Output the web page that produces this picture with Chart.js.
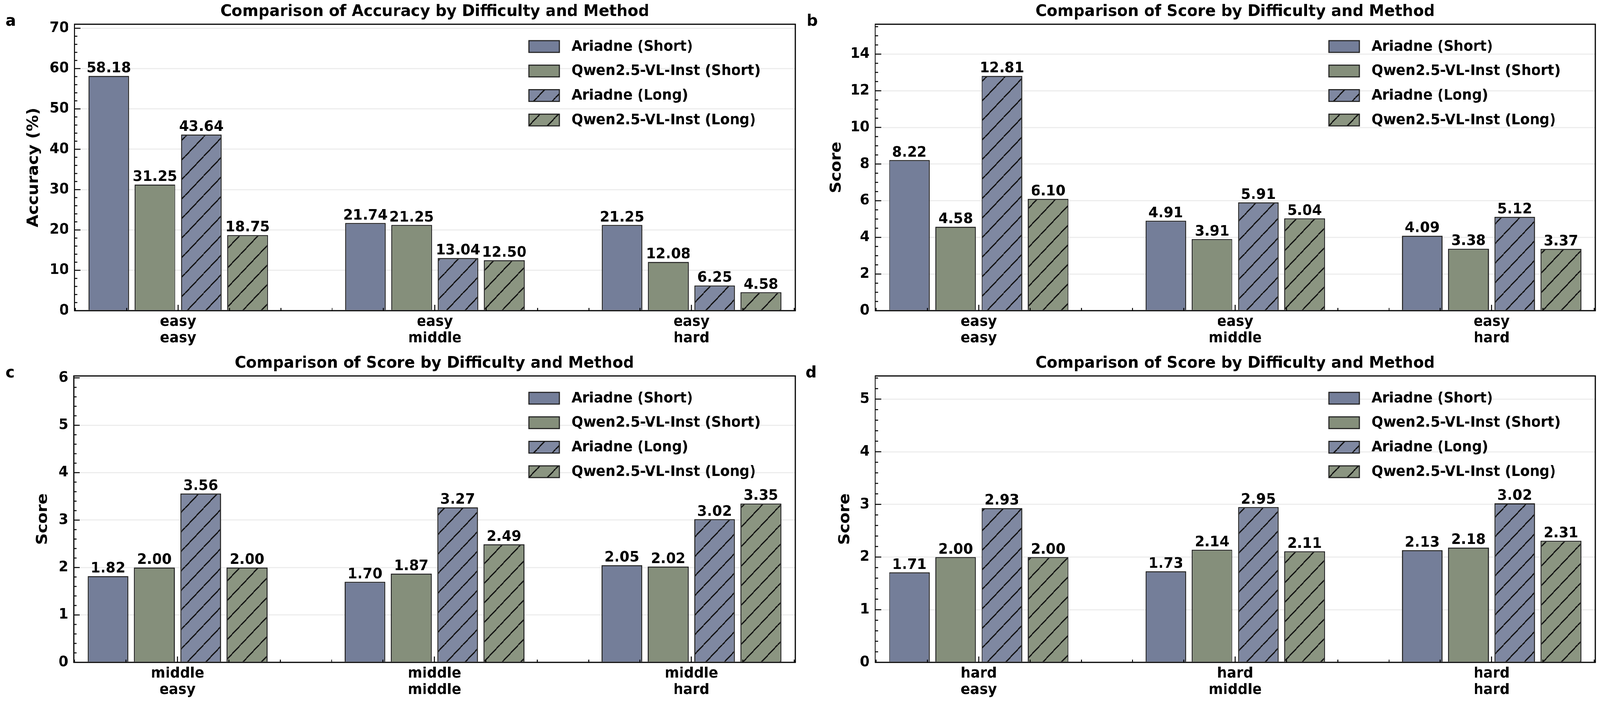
<!DOCTYPE html>
<html>
<head>
<meta charset="utf-8">
<title>Comparison by Difficulty and Method</title>
<script src="https://cdn.jsdelivr.net/npm/chart.js@4.4.0/dist/chart.umd.min.js"></script>
<style>
    html, body { margin: 0; background: #fff; overflow: hidden; }
    #page { position: absolute; left: 0; top: 0; width: 4320px; height: 1799px; transform-origin: 0 0; }
    .panel { position: absolute; width: 2160px; }
</style>
</head>
<body>
<div id="page">
    <div class="panel" style="left:0;top:0;height:900px"><canvas id="chartA"></canvas></div>
    <div class="panel" style="left:2160px;top:0;height:900px"><canvas id="chartB"></canvas></div>
    <div class="panel" style="left:0;top:900px;height:899px"><canvas id="chartC"></canvas></div>
    <div class="panel" style="left:2160px;top:900px;height:899px"><canvas id="chartD"></canvas></div>
</div>
<script>
    'use strict';

    var methodNames = ['Ariadne (Short)', 'Qwen2.5-VL-Inst (Short)', 'Ariadne (Long)', 'Qwen2.5-VL-Inst (Long)'];

    var catsEasy = [['easy', 'easy'], ['easy', 'middle'], ['easy', 'hard']];
    var catsMiddle = [['middle', 'easy'], ['middle', 'middle'], ['middle', 'hard']];
    var catsHard = [['hard', 'easy'], ['hard', 'middle'], ['hard', 'hard']];

    // a: accuracy (%), easy
    var accEasyAriadneShort = [58.18, 21.74, 21.25];
    var accEasyQwenShort = [31.25, 21.25, 12.08];
    var accEasyAriadneLong = [43.64, 13.04, 6.25];
    var accEasyQwenLong = [18.75, 12.50, 4.58];

    // b: score, easy
    var scoreEasyAriadneShort = [8.22, 4.91, 4.09];
    var scoreEasyQwenShort = [4.58, 3.91, 3.38];
    var scoreEasyAriadneLong = [12.81, 5.91, 5.12];
    var scoreEasyQwenLong = [6.10, 5.04, 3.37];

    // c: score, middle
    var scoreMiddleAriadneShort = [1.82, 1.70, 2.05];
    var scoreMiddleQwenShort = [2.00, 1.87, 2.02];
    var scoreMiddleAriadneLong = [3.56, 3.27, 3.02];
    var scoreMiddleQwenLong = [2.00, 2.49, 3.35];

    // d: score, hard
    var scoreHardAriadneShort = [1.71, 1.73, 2.13];
    var scoreHardQwenShort = [2.00, 2.14, 2.18];
    var scoreHardAriadneLong = [2.93, 2.95, 3.02];
    var scoreHardQwenLong = [2.00, 2.11, 2.31];

    var yTicksA = [0, 10, 20, 30, 40, 50, 60, 70];
    var yTicksB = [0, 2, 4, 6, 8, 10, 12, 14];
    var yTicksC = [0, 1, 2, 3, 4, 5, 6];
    var yTicksD = [0, 1, 2, 3, 4, 5];
    var xTicks = [0, 1, 2];

    // the figure is laid out at 4320x1799; fit it to the real window
    var sx = Math.min(1, window.innerWidth / 4320);
    var sy = Math.min(1, window.innerHeight / 1799);
    document.getElementById('page').style.transform = 'scale(' + sx + ',' + sy + ')';

    var FONT = '"DejaVu Sans", sans-serif';
    Chart.defaults.font.family = FONT;
    Chart.defaults.font.weight = 'bold';
    Chart.defaults.color = '#000';

    function hatch(color) {
        var s = 50;
        var c = document.createElement('canvas');
        c.width = s;
        c.height = s;
        var g = c.getContext('2d');
        g.fillStyle = color;
        g.fillRect(0, 0, s, s);
        g.strokeStyle = '#111';
        g.lineWidth = 3.2;
        g.beginPath();
        [-s, 0, s].forEach(function (o) {
            g.moveTo(o, s);
            g.lineTo(o + s, 0);
        });
        g.stroke();
        return g.createPattern(c, 'repeat');
    }

    var fills = ['#747e99', '#858f7b', hatch('#7f88a1'), hatch('#8b9581')];

    // inward ticks, value labels, frame, legend and panel letter
    var decorPlugin = {
        id: 'decor',
        afterDatasetsDraw: function (chart, args, o) {
            var ctx = chart.ctx;
            var area = chart.chartArea;
            var xs = chart.scales.x;
            var ys = chart.scales.y;
            ctx.save();

            ctx.font = 'bold 38px ' + FONT;
            ctx.fillStyle = '#000';
            ctx.textAlign = 'center';
            ctx.textBaseline = 'alphabetic';
            chart.data.datasets.forEach(function (ds, i) {
                chart.getDatasetMeta(i).data.forEach(function (bar, j) {
                    ctx.fillText(ds.data[j].y.toFixed(2), bar.x, bar.y - 9);
                });
            });

            ctx.strokeStyle = '#000';
            ctx.lineWidth = 2.5;
            ctx.beginPath();
            var k, v, p;
            for (k = 1; k * o.yMinor <= ys.max + 1e-9; k++) {
                v = k * o.yMinor;
                p = ys.getPixelForValue(v);
                var isMajor = Math.abs(v / o.yMajor - Math.round(v / o.yMajor)) < 1e-6;
                ctx.moveTo(area.left, p);
                ctx.lineTo(area.left + (isMajor ? 16 : 8), p);
            }
            for (k = -10; k <= 20; k++) {
                v = k * 0.2;
                if (v < xs.min || v > xs.max) continue;
                p = xs.getPixelForValue(v);
                ctx.moveTo(p, area.bottom);
                ctx.lineTo(p, area.bottom - (k % 5 === 0 ? 15 : 7));
            }
            ctx.stroke();

            ctx.lineWidth = 3;
            ctx.strokeRect(area.left, area.top, area.right - area.left, area.bottom - area.top);

            // legend
            var lx = area.right - 719;
            ctx.font = 'bold 37.5px ' + FONT;
            ctx.textAlign = 'left';
            ctx.textBaseline = 'middle';
            chart.data.datasets.forEach(function (ds, i) {
                var cy = area.top + 57 + i * 62.7;
                ctx.fillStyle = ds.backgroundColor;
                ctx.fillRect(lx, cy - 15, 82, 30);
                ctx.lineWidth = 2.8;
                ctx.strokeStyle = '#222';
                ctx.strokeRect(lx, cy - 15, 82, 30);
                ctx.fillStyle = '#000';
                ctx.fillText(ds.label, lx + 115, cy + 1);
            });

            ctx.font = 'bold 41.7px ' + FONT;
            ctx.textBaseline = 'alphabetic';
            ctx.fillText(o.letter, o.letterX, 66);
            ctx.restore();
        }
    };

    function makeChart(id, p) {
        var datasets = p.series.map(function (values, i) {
            return {
                label: methodNames[i],
                data: values.map(function (y, j) { return { x: j, y: y }; }),
                backgroundColor: fills[i],
                borderColor: '#222',
                borderWidth: 2.8,
                categoryPercentage: 0.7215,
                barPercentage: 0.88
            };
        });

        return new Chart(document.getElementById(id).getContext('2d'), {
            type: 'bar',
            data: { datasets: datasets },
            plugins: [decorPlugin],
            options: {
                responsive: true,
                maintainAspectRatio: false,
                animation: false,
                devicePixelRatio: 1,
                layout: { padding: { left: 0, right: 13, top: 0, bottom: 0 } },
                plugins: {
                    legend: { display: false },
                    tooltip: { enabled: false },
                    title: {
                        display: true,
                        text: p.title,
                        fullSize: false,
                        color: '#000',
                        font: { size: 41.7, weight: 'bold' },
                        padding: { top: 5.6, bottom: 6.4 }
                    },
                    decor: { letter: p.letter, letterX: p.letterX, yMajor: p.yTicks[1], yMinor: p.yMinor }
                },
                scales: {
                    x: {
                        type: 'linear',
                        min: -0.404,
                        max: 2.404,
                        offset: false,
                        afterBuildTicks: function (s) {
                            s.ticks = xTicks.map(function (v) { return { value: v }; });
                        },
                        afterFit: function (s) { s.height = p.xAxisHeight; },
                        grid: { display: false, drawTicks: false },
                        border: { display: false },
                        ticks: {
                            autoSkip: false,
                            maxRotation: 0,
                            padding: 9,
                            color: '#000',
                            font: { size: 37.5, weight: 'bold', lineHeight: 1.1 },
                            callback: function (v) { return p.cats[v]; }
                        }
                    },
                    y: {
                        min: 0,
                        max: p.yMax,
                        afterBuildTicks: function (s) {
                            s.ticks = p.yTicks.map(function (v) { return { value: v }; });
                        },
                        afterFit: function (s) { s.width = p.yAxisWidth; },
                        grid: { color: 'rgba(0,0,0,0.07)', lineWidth: 3, drawTicks: false },
                        border: { display: false },
                        ticks: {
                            padding: 15,
                            color: '#000',
                            font: { size: 37.5, weight: 'bold' },
                            callback: function (v) { return String(v); }
                        },
                        title: {
                            display: true,
                            text: p.yTitle,
                            color: '#000',
                            font: { size: 41.7, weight: 'bold' },
                            padding: { top: p.yTitlePad, bottom: 0 }
                        }
                    }
                }
            }
        });
    }

    makeChart('chartA', {
        title: 'Comparison of Accuracy by Difficulty and Method',
        yTitle: 'Accuracy (%)', letter: 'a', letterX: 15,
        cats: catsEasy, yTicks: yTicksA, yMax: 70.98, yMinor: 2,
        yAxisWidth: 201, yTitlePad: 66, xAxisHeight: 105,
        series: [accEasyAriadneShort, accEasyQwenShort, accEasyAriadneLong, accEasyQwenLong]
    });

    makeChart('chartB', {
        title: 'Comparison of Score by Difficulty and Method',
        yTitle: 'Score', letter: 'b', letterX: 18,
        cats: catsEasy, yTicks: yTicksB, yMax: 15.63, yMinor: 0.5,
        yAxisWidth: 203, yTitlePad: 74, xAxisHeight: 105,
        series: [scoreEasyAriadneShort, scoreEasyQwenShort, scoreEasyAriadneLong, scoreEasyQwenLong]
    });

    makeChart('chartC', {
        title: 'Comparison of Score by Difficulty and Method',
        yTitle: 'Score', letter: 'c', letterX: 15,
        cats: catsMiddle, yTicks: yTicksC, yMax: 6.04, yMinor: 0.2,
        yAxisWidth: 199, yTitlePad: 91, xAxisHeight: 104,
        series: [scoreMiddleAriadneShort, scoreMiddleQwenShort, scoreMiddleAriadneLong, scoreMiddleQwenLong]
    });

    makeChart('chartD', {
        title: 'Comparison of Score by Difficulty and Method',
        yTitle: 'Score', letter: 'd', letterX: 15,
        cats: catsHard, yTicks: yTicksD, yMax: 5.44, yMinor: 0.2,
        yAxisWidth: 203, yTitlePad: 97, xAxisHeight: 104,
        series: [scoreHardAriadneShort, scoreHardQwenShort, scoreHardAriadneLong, scoreHardQwenLong]
    });
</script>
</body>
</html>
